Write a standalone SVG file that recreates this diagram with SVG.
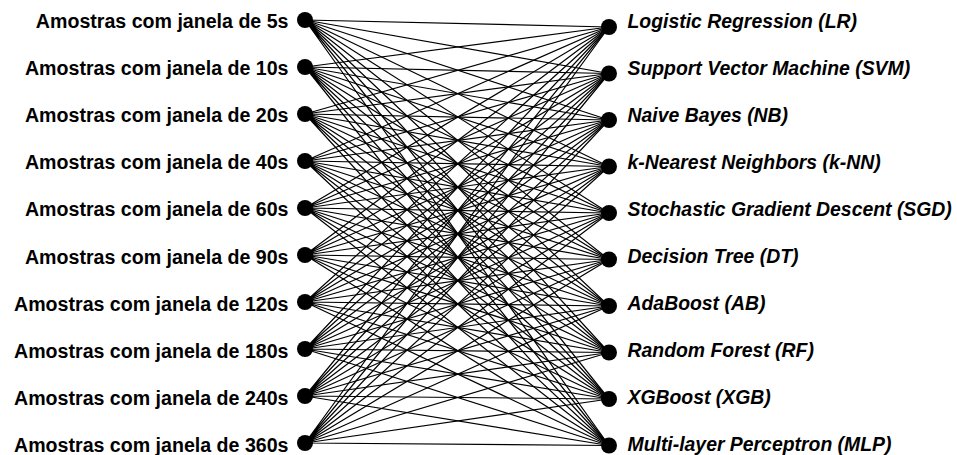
<svg xmlns="http://www.w3.org/2000/svg" width="957" height="455" viewBox="0 0 957 455">
<style>
.l{font-family:"Liberation Sans",Arial,sans-serif;font-weight:bold;font-size:19.6px;fill:#000;text-anchor:end}
.r{font-family:"Liberation Sans",Arial,sans-serif;font-weight:bold;font-style:italic;font-size:19.4px;fill:#000}
.d{fill:#000}
.e{stroke:#000;stroke-width:1.2;fill:none}
</style>
<rect width="957" height="455" fill="#fff"/>
<g id="connectors" class="e">
<path d="M305 20L609 27M305 20L609 73.5M305 20L609 120M305 20L609 166.5M305 20L609 213M305 20L609 259.5M305 20L609 306M305 20L609 352.5M305 20L609 399M305 20L609 445.5"/>
<path d="M305 67L609 27M305 67L609 73.5M305 67L609 120M305 67L609 166.5M305 67L609 213M305 67L609 259.5M305 67L609 306M305 67L609 352.5M305 67L609 399M305 67L609 445.5"/>
<path d="M305 114L609 27M305 114L609 73.5M305 114L609 120M305 114L609 166.5M305 114L609 213M305 114L609 259.5M305 114L609 306M305 114L609 352.5M305 114L609 399M305 114L609 445.5"/>
<path d="M305 161L609 27M305 161L609 73.5M305 161L609 120M305 161L609 166.5M305 161L609 213M305 161L609 259.5M305 161L609 306M305 161L609 352.5M305 161L609 399M305 161L609 445.5"/>
<path d="M305 208L609 27M305 208L609 73.5M305 208L609 120M305 208L609 166.5M305 208L609 213M305 208L609 259.5M305 208L609 306M305 208L609 352.5M305 208L609 399M305 208L609 445.5"/>
<path d="M305 255L609 27M305 255L609 73.5M305 255L609 120M305 255L609 166.5M305 255L609 213M305 255L609 259.5M305 255L609 306M305 255L609 352.5M305 255L609 399M305 255L609 445.5"/>
<path d="M305 302L609 27M305 302L609 73.5M305 302L609 120M305 302L609 166.5M305 302L609 213M305 302L609 259.5M305 302L609 306M305 302L609 352.5M305 302L609 399M305 302L609 445.5"/>
<path d="M305 349L609 27M305 349L609 73.5M305 349L609 120M305 349L609 166.5M305 349L609 213M305 349L609 259.5M305 349L609 306M305 349L609 352.5M305 349L609 399M305 349L609 445.5"/>
<path d="M305 396L609 27M305 396L609 73.5M305 396L609 120M305 396L609 166.5M305 396L609 213M305 396L609 259.5M305 396L609 306M305 396L609 352.5M305 396L609 399M305 396L609 445.5"/>
<path d="M305 443L609 27M305 443L609 73.5M305 443L609 120M305 443L609 166.5M305 443L609 213M305 443L609 259.5M305 443L609 306M305 443L609 352.5M305 443L609 399M305 443L609 445.5"/>
</g>
<g id="w5"><circle class="d" cx="305" cy="20" r="8"/><text class="l" x="288.5" y="27.5">Amostras com janela de 5s</text></g>
<g id="w10"><circle class="d" cx="305" cy="67" r="8"/><text class="l" x="288.5" y="74.7">Amostras com janela de 10s</text></g>
<g id="w20"><circle class="d" cx="305" cy="114" r="8"/><text class="l" x="288.5" y="121.9">Amostras com janela de 20s</text></g>
<g id="w40"><circle class="d" cx="305" cy="161" r="8"/><text class="l" x="288.5" y="169.1">Amostras com janela de 40s</text></g>
<g id="w60"><circle class="d" cx="305" cy="208" r="8"/><text class="l" x="288.5" y="216.3">Amostras com janela de 60s</text></g>
<g id="w90"><circle class="d" cx="305" cy="255" r="8"/><text class="l" x="288.5" y="263.5">Amostras com janela de 90s</text></g>
<g id="w120"><circle class="d" cx="305" cy="302" r="8"/><text class="l" x="288.5" y="310.7">Amostras com janela de 120s</text></g>
<g id="w180"><circle class="d" cx="305" cy="349" r="8"/><text class="l" x="288.5" y="357.9">Amostras com janela de 180s</text></g>
<g id="w240"><circle class="d" cx="305" cy="396" r="8"/><text class="l" x="288.5" y="405.1">Amostras com janela de 240s</text></g>
<g id="w360"><circle class="d" cx="305" cy="443" r="8"/><text class="l" x="288.5" y="452.3">Amostras com janela de 360s</text></g>
<g id="lr"><circle class="d" cx="609" cy="27" r="8"/><text class="r" x="627.5" y="27.5">Logistic Regression (LR)</text></g>
<g id="svm"><circle class="d" cx="609" cy="73.5" r="8"/><text class="r" x="627.5" y="74.5">Support Vector Machine (SVM)</text></g>
<g id="nb"><circle class="d" cx="609" cy="120" r="8"/><text class="r" x="627.5" y="121.5">Naive Bayes (NB)</text></g>
<g id="knn"><circle class="d" cx="609" cy="166.5" r="8"/><text class="r" x="627.5" y="168.5">k-Nearest Neighbors (k-NN)</text></g>
<g id="sgd"><circle class="d" cx="609" cy="213" r="8"/><text class="r" x="627.5" y="215.5">Stochastic Gradient Descent (SGD)</text></g>
<g id="dt"><circle class="d" cx="609" cy="259.5" r="8"/><text class="r" x="627.5" y="262.5">Decision Tree (DT)</text></g>
<g id="ab"><circle class="d" cx="609" cy="306" r="8"/><text class="r" x="627.5" y="309.5">AdaBoost (AB)</text></g>
<g id="rf"><circle class="d" cx="609" cy="352.5" r="8"/><text class="r" x="627.5" y="356.5">Random Forest (RF)</text></g>
<g id="xgb"><circle class="d" cx="609" cy="399" r="8"/><text class="r" x="627.5" y="403.5">XGBoost (XGB)</text></g>
<g id="mlp"><circle class="d" cx="609" cy="445.5" r="8"/><text class="r" x="627.5" y="450.5">Multi-layer Perceptron (MLP)</text></g>
</svg>
